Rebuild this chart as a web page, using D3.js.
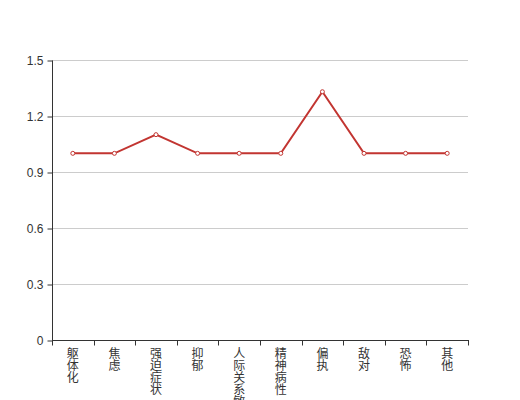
<!DOCTYPE html>
<html>
<head>
<meta charset="utf-8">
<script src="https://cdn.jsdelivr.net/npm/d3@7"></script>
<style>
  body { margin: 0; background: #fff; }
  svg { display: block; font-family: "Noto Sans CJK SC", sans-serif; }
</style>
</head>
<body>
<svg id="chart" width="520" height="400"></svg>
<script>
// categories and values
var categories = ['躯体化', '焦虑', '强迫症状', '抑郁', '人际关系敏感', '精神病性', '偏执', '敌对', '恐怖', '其他'];
var scores = [1, 1, 1.1, 1, 1, 1, 1.33, 1, 1, 1];
var yTicks = [0, 0.3, 0.6, 0.9, 1.2, 1.5];

var svg = d3.select('#chart');
var gridLeft = 52, gridRight = 468, gridTop = 60, gridBottom = 340;
var lineColor = '#c23531';

var x = d3.scaleBand().domain(categories).range([gridLeft, gridRight]);
var y = d3.scaleLinear().domain([0, 1.5]).range([gridBottom, gridTop]);

// horizontal split lines
svg.append('g')
    .selectAll('line')
    .data(yTicks.slice(1))
    .enter().append('line')
    .attr('x1', gridLeft).attr('x2', gridRight)
    .attr('y1', function(d) { return y(d) + 0.5; })
    .attr('y2', function(d) { return y(d) + 0.5; })
    .attr('stroke', '#ccc');

// y axis
var yAxis = d3.axisLeft(y).tickValues(yTicks).tickSize(5).tickPadding(4)
    .tickFormat(function(d) { return d === 0 ? '0' : d3.format('.1f')(d); });
var gy = svg.append('g').attr('transform', 'translate(' + (gridLeft + 0.5) + ',0.5)').call(yAxis);
gy.select('.domain').attr('stroke', '#333').attr('d', 'M0,' + gridTop + 'V' + gridBottom);
gy.selectAll('.tick line').attr('stroke', '#333');
gy.selectAll('.tick text').attr('fill', '#333').style('font-size', '12px')
    .style('font-family', 'sans-serif');

// x axis: ticks on band boundaries
var gx = svg.append('g').attr('transform', 'translate(0,' + (gridBottom + 0.5) + ')');
gx.append('line').attr('x1', gridLeft).attr('x2', gridRight + 1).attr('stroke', '#333');
var bounds = categories.map(function(c) { return x(c); }).concat([gridRight]);
gx.selectAll('.tk').data(bounds).enter().append('line')
    .attr('x1', function(d) { return Math.round(d) + 0.5; })
    .attr('x2', function(d) { return Math.round(d) + 0.5; })
    .attr('y1', 0).attr('y2', 5)
    .attr('stroke', '#333');

// vertical stacked labels
var labels = gx.selectAll('.lbl').data(categories).enter().append('text')
    .attr('fill', '#333')
    .style('font-size', '12px')
    .attr('text-anchor', 'middle');
labels.each(function(c) {
    var t = d3.select(this);
    c.split('').forEach(function(ch, i) {
        t.append('tspan')
            .attr('x', x(c) + x.bandwidth() / 2)
            .attr('y', 17 + i * 12)
            .text(ch);
    });
});

// line
var line = d3.line()
    .x(function(d, i) { return x(categories[i]) + x.bandwidth() / 2; })
    .y(function(d) { return y(d); });

svg.append('path')
    .datum(scores)
    .attr('d', line)
    .attr('fill', 'none')
    .attr('stroke', lineColor)
    .attr('stroke-width', 2);

svg.append('g')
    .selectAll('circle')
    .data(scores)
    .enter().append('circle')
    .attr('cx', function(d, i) { return x(categories[i]) + x.bandwidth() / 2; })
    .attr('cy', function(d) { return y(d); })
    .attr('r', 2)
    .attr('fill', '#fff')
    .attr('stroke', lineColor)
    .attr('stroke-width', 1);
</script>
</body>
</html>
